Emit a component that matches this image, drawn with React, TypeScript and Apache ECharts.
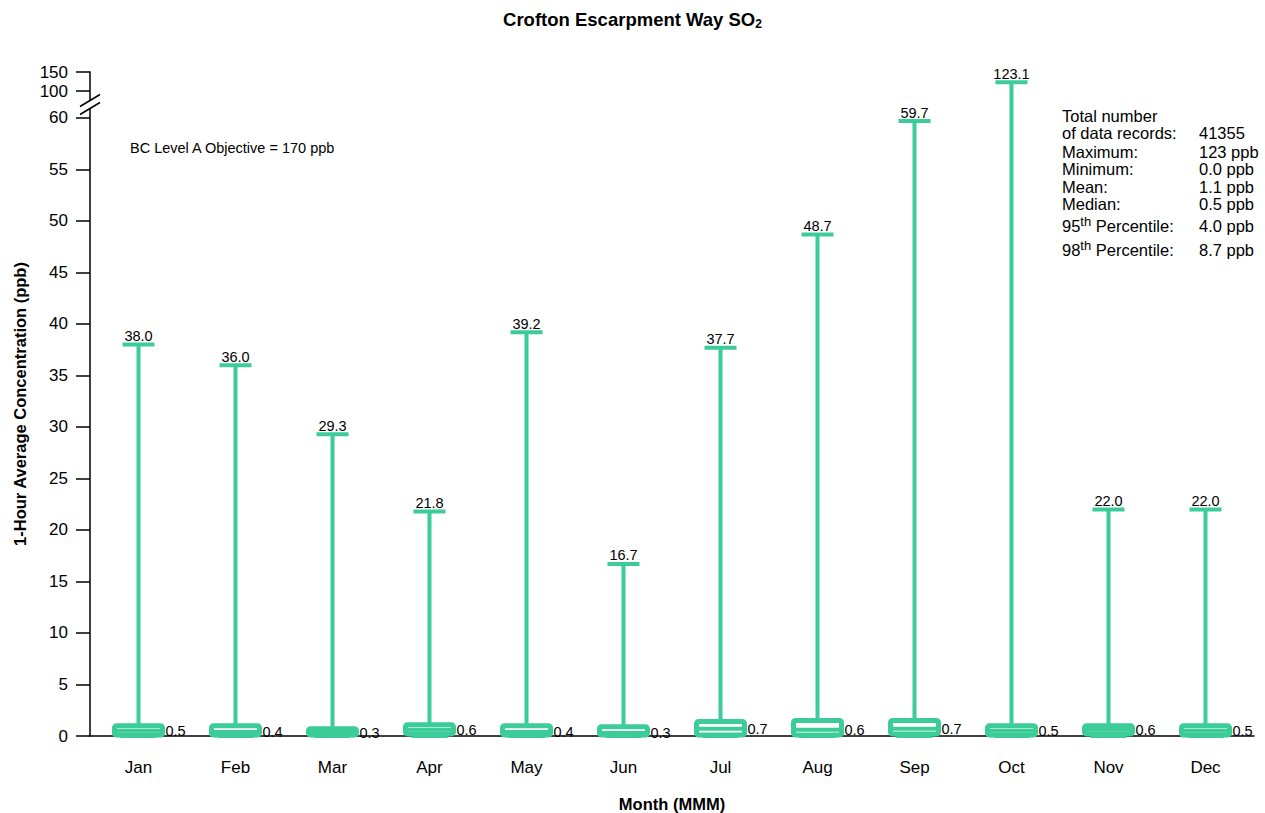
import React, { useEffect, useRef } from "react";
import * as echarts from "echarts";

const months = ["Jan", "Feb", "Mar", "Apr", "May", "Jun", "Jul", "Aug", "Sep", "Oct", "Nov", "Dec"];
const minValues = [0, 0, 0, 0, 0, 0, 0, 0, 0, 0, 0, 0];
const q1Values = [0.1, 0.1, 0.1, 0.2, 0.1, 0.1, 0.1, 0.1, 0.2, 0.1, 0.2, 0.1];
const medianValues = [0.5, 0.4, 0.3, 0.6, 0.4, 0.3, 0.7, 0.6, 0.7, 0.5, 0.6, 0.5];
const q3Values = [1.0, 1.0, 0.7, 1.1, 1.0, 0.9, 1.4, 1.5, 1.5, 1.0, 1.0, 1.0];
const maxValues = [38.0, 36.0, 29.3, 21.8, 39.2, 16.7, 37.7, 48.7, 59.7, 123.1, 22.0, 22.0];
const yTickValues = [0, 5, 10, 15, 20, 25, 30, 35, 40, 45, 50, 55, 60, 100, 150];

const statLabels = [
  "Total number",
  "of data records:",
  "Maximum:",
  "Minimum:",
  "Mean:",
  "Median:",
  "95{sup|th} Percentile:",
  "98{sup|th} Percentile:",
];
const statValues = ["", "41355", "123 ppb", "0.0 ppb", "1.1 ppb", "0.5 ppb", "4.0 ppb", "8.7 ppb"];
const statRowY = [115.5, 132.5, 151.5, 169, 186.5, 204, 226, 250];

const FONT = '"Liberation Sans", Arial, Helvetica, sans-serif';
const GREEN = "#3ccc99";
const GRID_LEFT = 90;

// broken axis: 0-60 linear, then a gap, then 100-150 compressed
const BREAK_LOW = 60;
const BREAK_HIGH = 100;
const GAP_UNITS = 2.62;
const UPPER_SCALE = 1.845 / 50;
function toAxis(v: number): number {
  if (v <= BREAK_LOW) return v;
  if (v >= BREAK_HIGH) return BREAK_LOW + GAP_UNITS + (v - BREAK_HIGH) * UPPER_SCALE;
  return BREAK_LOW + ((v - BREAK_LOW) / (BREAK_HIGH - BREAK_LOW)) * GAP_UNITS;
}

const axisTicks = yTickValues.map(toAxis);

export default function App() {
  const ref = useRef<HTMLDivElement>(null);

  useEffect(() => {
    if (!ref.current) return;
    const chart = echarts.init(ref.current, null, { renderer: "svg" });

    const data = months.map((_, i) => [
      i,
      toAxis(minValues[i]),
      toAxis(q1Values[i]),
      toAxis(medianValues[i]),
      toAxis(q3Values[i]),
      toAxis(maxValues[i]),
    ]);

    const renderItem = (params: any, api: any) => {
      const i = api.value(0);
      const idx = params.dataIndex;
      const pMin = api.coord([i, api.value(1)]);
      const pQ1 = api.coord([i, api.value(2)]);
      const pMed = api.coord([i, api.value(3)]);
      const pQ3 = api.coord([i, api.value(4)]);
      const pMax = api.coord([i, api.value(5)]);
      const x = pMin[0];
      const boxW = 48;
      const lw = 4;
      const children: any[] = [
        {
          type: "line",
          shape: { x1: x, y1: pMax[1], x2: x, y2: pMin[1] },
          style: { stroke: GREEN, lineWidth: lw },
        },
        {
          type: "rect",
          shape: { x: x - boxW / 2, y: pQ3[1], width: boxW, height: pQ1[1] - pQ3[1], r: 2 },
          style: { fill: "#ffffff", stroke: GREEN, lineWidth: 5 },
        },
        {
          type: "line",
          shape: { x1: x - boxW / 2, y1: pMed[1], x2: x + boxW / 2, y2: pMed[1] },
          style: { stroke: GREEN, lineWidth: lw },
        },
        {
          type: "line",
          shape: { x1: x - 16, y1: pMax[1], x2: x + 16, y2: pMax[1] },
          style: { stroke: GREEN, lineWidth: lw },
        },
        {
          type: "line",
          shape: { x1: x - 18, y1: pMin[1], x2: x + 18, y2: pMin[1] },
          style: { stroke: GREEN, lineWidth: lw },
        },
        {
          type: "text",
          style: {
            text: maxValues[idx].toFixed(1),
            x: x,
            y: pMax[1] - 1,
            align: "center",
            verticalAlign: "bottom",
            fill: "#000",
            fontSize: 14.5,
            fontFamily: FONT,
          },
        },
        {
          type: "text",
          style: {
            text: medianValues[idx].toFixed(1),
            x: x + boxW / 2 + 3,
            y: pMed[1],
            align: "left",
            verticalAlign: "middle",
            fill: "#000",
            fontSize: 14.5,
            fontFamily: FONT,
          },
        },
      ];
      return { type: "group", children };
    };

    const staticGraphics: any[] = [
      {
        type: "text",
        z: 100,
        x: 130,
        y: 148,
        style: {
          text: "BC Level A Objective = 170 ppb",
          fill: "#000",
          fontSize: 14.5,
          fontFamily: FONT,
          align: "left",
          verticalAlign: "middle",
        },
      },
    ];
    statLabels.forEach((lab, k) => {
      staticGraphics.push({
        type: "text",
        z: 100,
        x: 1062,
        y: statRowY[k],
        style: {
          text: lab,
          fill: "#000",
          fontSize: 16.5,
          fontFamily: FONT,
          lineHeight: 22,
          align: "left",
          verticalAlign: "middle",
          rich: { sup: { fontSize: 13, fontFamily: FONT, fill: "#000", verticalAlign: "top", lineHeight: 13 } },
        },
      });
      if (statValues[k]) {
        staticGraphics.push({
          type: "text",
          z: 100,
          x: 1199,
          y: statRowY[k],
          style: {
            text: statValues[k],
            fill: "#000",
            fontSize: 16.5,
            fontFamily: FONT,
            align: "left",
            verticalAlign: "middle",
          },
        });
      }
    });

    chart.setOption({
      animation: false,
      backgroundColor: "#ffffff",
      title: {
        text: "Crofton Escarpment Way SO{sub|2}",
        left: "center",
        top: 3,
        textStyle: {
          fontSize: 18.5,
          fontWeight: "bold",
          fontFamily: FONT,
          color: "#000",
          lineHeight: 22,
          rich: {
            sub: { fontSize: 12, fontWeight: "bold", fontFamily: FONT, color: "#000", verticalAlign: "bottom", lineHeight: 12 },
          },
        },
      },
      grid: { left: GRID_LEFT, right: 11, top: 72, bottom: 77, containLabel: false, outerBoundsMode: "none" },
      xAxis: {
        type: "category",
        data: months,
        boundaryGap: true,
        name: "Month (MMM)",
        nameLocation: "middle",
        nameGap: 59,
        nameTextStyle: { fontSize: 16.5, fontWeight: "bold", fontFamily: FONT, color: "#000" },
        axisLine: { lineStyle: { color: "#000", width: 1.5 } },
        axisTick: { alignWithLabel: true, length: 13, lineStyle: { color: "#000", width: 1.5 } },
        axisLabel: { fontSize: 17, fontFamily: FONT, color: "#000", margin: 23 },
        splitLine: { show: false },
      },
      yAxis: {
        type: "value",
        min: 0,
        max: toAxis(150),
        name: "1-Hour Average Concentration (ppb)",
        nameLocation: "middle",
        nameGap: 62,
        nameTextStyle: { fontSize: 16.5, fontWeight: "bold", fontFamily: FONT, color: "#000" },
        axisLine: { show: true, lineStyle: { color: "#000", width: 1.5 } },
        axisTick: { show: true, length: 14, customValues: axisTicks, lineStyle: { color: "#000", width: 1.5 } },
        axisLabel: {
          fontSize: 17,
          fontFamily: FONT,
          color: "#000",
          margin: 22,
          customValues: axisTicks,
          formatter: (val: number) => {
            const k = axisTicks.findIndex((t) => Math.abs(t - val) < 1e-6);
            return k >= 0 ? String(yTickValues[k]) : "";
          },
        },
        splitLine: { show: false },
      },
      series: [
        {
          type: "custom",
          renderItem,
          data,
          encode: { x: 0, y: [1, 2, 3, 4, 5] },
          clip: false,
        },
      ],
      graphic: staticGraphics,
    });

    const yLow = chart.convertToPixel({ yAxisIndex: 0 }, toAxis(BREAK_LOW)) as number;
    const yHigh = chart.convertToPixel({ yAxisIndex: 0 }, toAxis(BREAK_HIGH)) as number;
    const yMid = (yLow + yHigh) / 2;
    const breakGraphics: any[] = [
      {
        type: "rect",
        z: 100,
        shape: { x: GRID_LEFT - 3, y: yMid - 4, width: 6, height: 8 },
        style: { fill: "#ffffff" },
      },
      {
        type: "line",
        z: 101,
        shape: { x1: GRID_LEFT - 10, y1: yMid - 4 + 6, x2: GRID_LEFT + 10, y2: yMid - 4 - 6 },
        style: { stroke: "#000", lineWidth: 1.5 },
      },
      {
        type: "line",
        z: 101,
        shape: { x1: GRID_LEFT - 10, y1: yMid + 4 + 6, x2: GRID_LEFT + 10, y2: yMid + 4 - 6 },
        style: { stroke: "#000", lineWidth: 1.5 },
      },
    ];
    chart.setOption({ graphic: [...staticGraphics, ...breakGraphics] });

    return () => {
      chart.dispose();
    };
  }, []);

  return (
    <div
      ref={ref}
      style={{ position: "absolute", left: 0, top: 0, width: 1265, height: 813 }}
    />
  );
}
